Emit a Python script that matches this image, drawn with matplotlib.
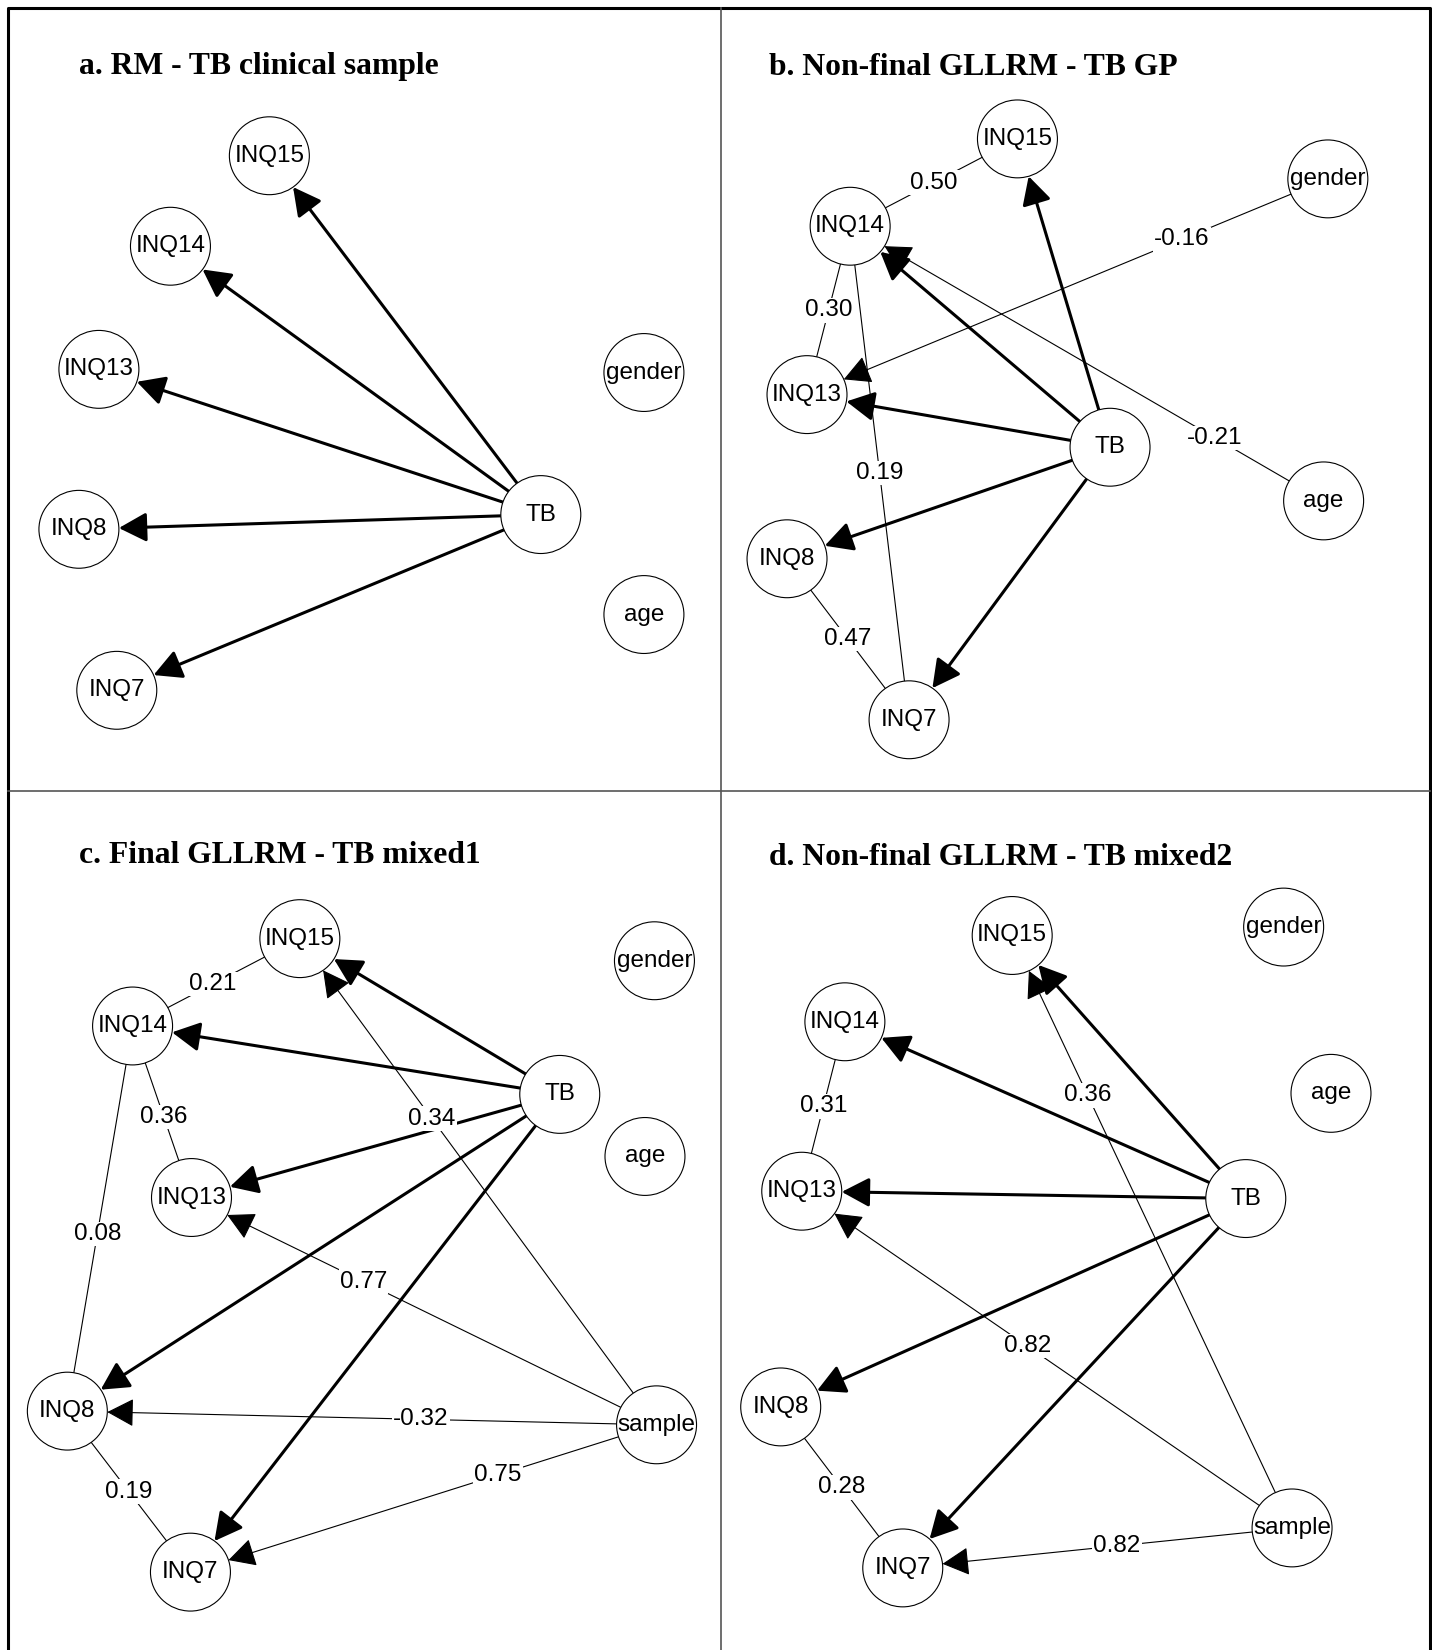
import numpy as np
import matplotlib.pyplot as plt
from matplotlib.patches import Ellipse, FancyArrowPatch, ArrowStyle

# reference pixel grid (shrunk view of the figure)
W, H = 1361, 1568

titles = ["a. RM - TB clinical sample", "b. Non-final GLLRM - TB GP",
          "c. Final GLLRM - TB mixed1", "d. Non-final GLLRM - TB mixed2"]

items = ["INQ15", "INQ14", "INQ13", "INQ8", "INQ7"]

# node layouts per panel
names_a = ["INQ15", "INQ14", "INQ13", "INQ8", "INQ7", "TB", "gender", "age"]
x_a = [256, 162, 94, 75, 111, 514, 612, 612]
y_a = [148, 234, 351, 503, 656, 489, 354, 584]

names_b = ["INQ15", "INQ14", "INQ13", "INQ8", "INQ7", "TB", "gender", "age"]
x_b = [967, 808, 767, 748, 864, 1055, 1262, 1258]
y_b = [132, 215, 375, 531, 684, 425, 170, 476]

names_c = ["INQ15", "INQ14", "INQ13", "INQ8", "INQ7", "TB", "gender", "age", "sample"]
x_c = [285, 126, 182, 64, 181, 532, 622, 613, 624]
y_c = [892, 975, 1138, 1341, 1494, 1040, 913, 1099, 1354]

names_d = ["INQ15", "INQ14", "INQ13", "INQ8", "INQ7", "TB", "gender", "age", "sample"]
x_d = [962, 803, 762, 742, 858, 1184, 1220, 1265, 1228]
y_d = [889, 971, 1132, 1337, 1490, 1139, 881, 1039, 1452]

# partial associations / DIF: (from, to, value, directed)
edges_a = []
edges_b = [("INQ14", "INQ15", 0.50, False), ("INQ14", "INQ13", 0.30, False),
           ("INQ14", "INQ7", 0.19, False), ("INQ8", "INQ7", 0.47, False),
           ("gender", "INQ13", -0.16, True), ("age", "INQ14", -0.21, True)]
edges_c = [("INQ14", "INQ15", 0.21, False), ("INQ14", "INQ13", 0.36, False),
           ("INQ14", "INQ8", 0.08, False), ("INQ8", "INQ7", 0.19, False),
           ("sample", "INQ15", 0.34, True), ("sample", "INQ13", 0.77, True),
           ("sample", "INQ8", -0.32, True), ("sample", "INQ7", 0.75, True)]
edges_d = [("INQ14", "INQ13", 0.31, False), ("INQ8", "INQ7", 0.28, False),
           ("sample", "INQ15", 0.36, True), ("sample", "INQ13", 0.82, True),
           ("sample", "INQ7", 0.82, True)]

# where along each edge the value sits (fraction from source)
label_t_b = [0.5, 0.5, 0.5, 0.5, 0.28, 0.23]
label_t_c = [0.48, 0.53, 0.54, 0.5, 0.63, 0.63, 0.40, 0.34]
label_t_d = [0.5, 0.5, 0.73, 0.54, 0.45]

title_xy = [(75, 63), (731, 64), (75, 813), (731, 815)]

EW, EH = 76, 74  # node ellipse size
font = ["Liberation Sans", "DejaVu Sans"]


def boundary(p, q):
    # point on ellipse around p in the direction of q
    d = np.array(q, float) - np.array(p, float)
    s = 1.0 / np.sqrt((d[0] / (EW / 2)) ** 2 + (d[1] / (EH / 2)) ** 2)
    return tuple(np.array(p) + d * s)


def arrow(ax, p, q, lw):
    a = boundary(p, q)
    b = boundary(q, p)
    ax.add_patch(FancyArrowPatch(a, b, arrowstyle=ArrowStyle("-|>", head_length=17, head_width=9),
                                 mutation_scale=1, lw=lw, color="black",
                                 shrinkA=0, shrinkB=0, zorder=2))


def draw_panel(ax, names, xs, ys, edges, label_t):
    pos = dict(zip(names, zip(xs, ys)))
    for it in items:
        arrow(ax, pos["TB"], pos[it], 2.2)
    for (s, t, v, directed), lt in zip(edges, label_t):
        p, q = pos[s], pos[t]
        if directed:
            arrow(ax, p, q, 0.8)
        else:
            a = boundary(p, q)
            b = boundary(q, p)
            ax.plot([a[0], b[0]], [a[1], b[1]], color="black", lw=0.8, zorder=2)
        lx = p[0] + lt * (q[0] - p[0])
        ly = p[1] + lt * (q[1] - p[1])
        ax.text(lx, ly, "%.2f" % v, ha="center", va="center", fontsize=17.5, family=font,
                bbox=dict(fc="white", ec="none", pad=0.8), zorder=4)
    for n in names:
        x, y = pos[n]
        ax.add_patch(Ellipse((x, y), EW, EH, fc="white", ec="black", lw=0.8, zorder=5))
        ax.text(x, y, n, ha="center", va="center", fontsize=17.5, family=font, zorder=6)


fig = plt.figure(figsize=(14.32, 16.5), dpi=100)
ax = fig.add_axes([0, 0, 1, 1])
ax.set_xlim(0, W)
ax.set_ylim(H, 0)
ax.axis("off")

# frame and dividers
ax.plot([8, 8, 1359, 1359], [1580, 8, 8, 1580], color="black", lw=2.2, zorder=1)
ax.plot([685, 685], [8, 1580], color="#555555", lw=1.2, zorder=1)
ax.plot([8, 1359], [752, 752], color="#555555", lw=1.2, zorder=1)

draw_panel(ax, names_a, x_a, y_a, edges_a, [])
draw_panel(ax, names_b, x_b, y_b, edges_b, label_t_b)
draw_panel(ax, names_c, x_c, y_c, edges_c, label_t_c)
draw_panel(ax, names_d, x_d, y_d, edges_d, label_t_d)

for (tx, ty), t in zip(title_xy, titles):
    ax.text(tx, ty, t, ha="left", va="center", fontsize=22.8, fontweight="bold",
            family=["Liberation Serif", "DejaVu Serif"])

fig.savefig("out.png", dpi=100)
